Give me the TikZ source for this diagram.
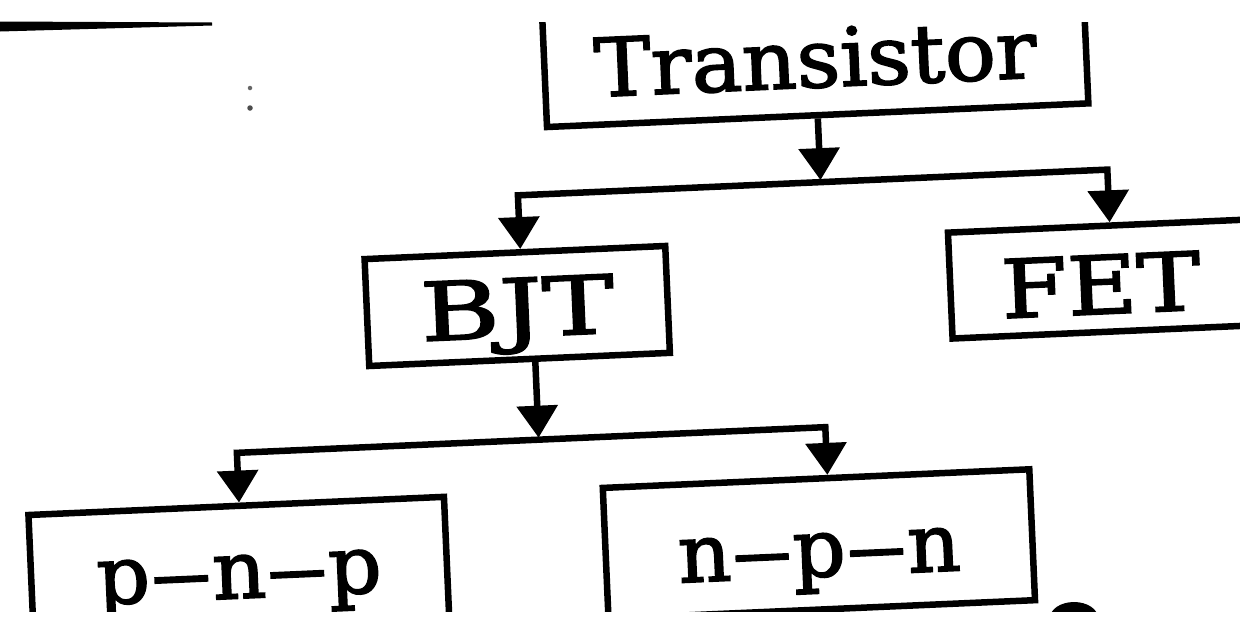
\documentclass[tikz,border=0pt]{standalone}
\usepackage{fontspec}
\setmainfont{DejaVu Serif}
\newfontfamily\diagfont[FakeBold=2]{DejaVu Serif}
\usepackage{graphicx}
\usetikzlibrary{arrows.meta,calc}
\newcommand\bigfont{\diagfont\fontsize{46}{55}\selectfont}
\newcommand\dsh{\scalebox{1.5}[1]{–}}
\newcommand\widen[2]{\scalebox{#1}[1]{#2}}
\begin{document}
\begin{tikzpicture}[x=0.02cm,y=-0.02cm,
  box/.style={draw, rectangle, line width=0.13cm, line join=miter, inner sep=0pt, font=\bigfont},
  arr/.style={-{Triangle[width=0.8cm,length=0.64cm]}, line width=0.13cm},
  arrtwo/.style={{Triangle[width=0.8cm,length=0.64cm]}-{Triangle[width=0.8cm,length=0.64cm]}, line width=0.13cm, line join=miter},
  tilt/.style={rotate around={2.5:(620,310)}, transform shape}]
\useasboundingbox (0,0) rectangle (1240,619);
\fill[white] (0,0) rectangle (1240,619);
\begin{scope}
\clip (0,0) rectangle (1240,611);
% stray marks of the scan
\fill (0,21.5) -- (212,22.5) -- (212,25.5) -- (0,31.5) -- cycle;
\fill[black!60] (250,88) circle (0.045cm);
\fill[black!70] (250,108) circle (0.055cm);
\fill (1074,618) ellipse [x radius=0.48cm, y radius=0.32cm];
% top box, cut by the page edge
\begin{scope}
\clip (0,22) rectangle (1240,611);
\begin{scope}[tilt]
\node[box, minimum width=10.84cm, minimum height=2.48cm, text height=1.36cm, text depth=0pt] (T) at (826,62) {\widen{1.05}{Transistor}};
\end{scope}
\end{scope}
\begin{scope}[tilt]
\node[box, minimum width=6.02cm, minimum height=2.14cm, text height=1.24cm, text depth=0pt] (BJT) at (517.5,301.5) {\widen{1.33}{BJT}};
\node[box, minimum width=6.02cm, minimum height=2.12cm, text height=1.40cm, text depth=0pt] (FET) at (1101.5,300) {\widen{1.18}{FET}};
\node[box, minimum width=8.32cm, minimum height=2.62cm, text height=1.32cm, text depth=0.24cm] (PNP) at (228,554.5) {\widen{1.03}{p\dsh n\dsh p}};
\node[box, minimum width=8.54cm, minimum height=2.62cm, text height=1.54cm, text depth=0.24cm] (NPN) at (808.5,552.5) {\widen{1.02}{n\dsh p\dsh n}};
\coordinate (b1L) at (523,191);
\coordinate (b1R) at (1113,191);
\coordinate (b2L) at (231,436);
\coordinate (b2R) at (820,436);
\coordinate (bs) at ($(BJT.south west)!0.551!(BJT.south east)$);
\end{scope}
\draw[arr, shorten >=0.04cm] (T.south) -- ($(b1L)!(T.south)!(b1R)$);
\draw[arrtwo] ($(BJT.north west)!(b1L)!(BJT.north east)$) -- (b1L) -- (b1R) -- ($(FET.north west)!(b1R)!(FET.north east)$);
\draw[arr, shorten >=0.04cm] (bs) -- ($(b2L)!(bs)!(b2R)$);
\draw[arrtwo] ($(PNP.north west)!(b2L)!(PNP.north east)$) -- (b2L) -- (b2R) -- ($(NPN.north west)!(b2R)!(NPN.north east)$);
\end{scope}
\end{tikzpicture}
\end{document}
